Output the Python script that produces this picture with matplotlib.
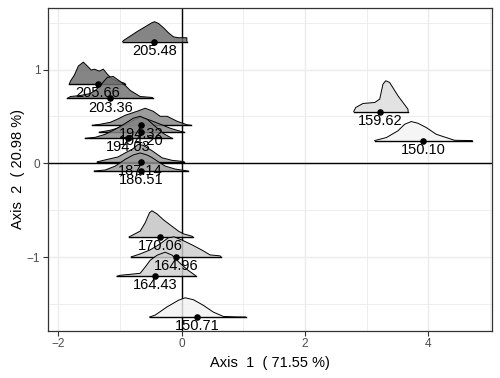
import numpy as np
import matplotlib
matplotlib.use("Agg")
import matplotlib.pyplot as plt
from matplotlib.colors import LinearSegmentedColormap, Normalize
from matplotlib.ticker import MultipleLocator

plt.rcParams['font.family'] = ['Liberation Sans', 'DejaVu Sans']

# ---- data ----
labels = ["205.48", "205.66", "203.36", "194.32", "194.20", "194.03", "187.14",
          "186.51", "170.06", "164.96", "164.43", "150.71", "159.62", "150.10"]
values = [205.48, 205.66, 203.36, 194.32, 194.20, 194.03, 187.14,
          186.51, 170.06, 164.96, 164.43, 150.71, 159.62, 150.10]
axis1 = [-0.443, -1.359, -1.160, -0.659, -0.663, -0.869, -0.667,
         -0.659, -0.346, -0.097, -0.427, 0.252, 3.214, 3.909]
axis2 = [1.297, 0.845, 0.692, 0.406, 0.332, 0.267, 0.016,
         -0.082, -0.784, -0.998, -1.205, -1.640, 0.553, 0.243]

# density ridge profiles (x positions along Axis 1, heights in Axis 2 units)
ridge_x = [
    [-0.961, -0.945, -0.729, -0.486, -0.443, -0.379, -0.298, -0.217, -0.136, -0.055, 0.081, 0.083],
    [-1.824, -1.807, -1.743, -1.678, -1.597, -1.532, -1.468, -1.419, -1.338, -1.273, -1.209, -1.144, -1.047, -0.934, -0.917],
    [-1.856, -1.807, -1.645, -1.484, -1.403, -1.322, -1.209, -1.112, -0.999, -0.917, -0.837, -0.675, -0.481, -0.464],
    [-1.451, -1.322, -1.160, -1.047, -0.917, -0.723, -0.594, -0.465, -0.351, -0.238, -0.076, 0.086, 0.150],
    [-1.338, -1.160, -0.998, -0.837, -0.675, -0.513, -0.351, -0.189, -0.028, 0.037],
    [-1.565, -1.403, -1.241, -1.079, -0.917, -0.788, -0.675, -0.562, -0.432, -0.303, -0.189, -0.157],
    [-1.371, -1.241, -1.031, -0.917, -0.804, -0.707, -0.626, -0.481, -0.319, -0.157, 0.005, 0.037],
    [-1.419, -1.241, -1.079, -0.917, -0.788, -0.675, -0.562, -0.481, -0.351, -0.270, -0.108, 0.102],
    [-0.853, -0.820, -0.675, -0.594, -0.524, -0.485, -0.405, -0.298, -0.162, -0.055, 0.026, 0.162, 0.178],
    [-0.820, -0.675, -0.513, -0.351, -0.222, -0.125, 0.005, 0.167, 0.328, 0.458, 0.620, 0.636],
    [-1.052, -0.998, -0.837, -0.675, -0.594, -0.513, -0.400, -0.270, -0.157, -0.028, 0.102, 0.215, 0.231],
    [-0.524, -0.432, -0.243, -0.055, 0.053, 0.188, 0.350, 0.511, 0.673, 0.862, 1.036],
    [2.788, 2.820, 2.939, 3.128, 3.209, 3.262, 3.306, 3.370, 3.505, 3.667, 3.670],
    [3.128, 3.317, 3.505, 3.613, 3.722, 3.828, 3.964, 4.126, 4.288, 4.422, 4.709],
]
ridge_h = [
    [0, 0.014, 0.107, 0.203, 0.214, 0.196, 0.150, 0.096, 0.053, 0.043, 0.043, 0],
    [0, 0.032, 0.096, 0.193, 0.235, 0.193, 0.150, 0.160, 0.139, 0.160, 0.107, 0.064, 0.032, 0.011, 0],
    [0, 0.021, 0.032, 0.053, 0.086, 0.139, 0.225, 0.235, 0.182, 0.139, 0.086, 0.021, 0.011, 0],
    [0, 0.011, 0.032, 0.064, 0.107, 0.150, 0.182, 0.150, 0.096, 0.096, 0.043, 0.005, 0],
    [0, 0.021, 0.053, 0.107, 0.160, 0.128, 0.086, 0.043, 0.011, 0],
    [0, 0.011, 0.043, 0.096, 0.160, 0.214, 0.235, 0.203, 0.128, 0.053, 0.011, 0],
    [0, 0.021, 0.053, 0.096, 0.134, 0.187, 0.176, 0.118, 0.043, 0.016, 0.005, 0],
    [0, 0.011, 0.053, 0.125, 0.171, 0.193, 0.171, 0.143, 0.086, 0.053, 0.021, 0],
    [0, 0.011, 0.061, 0.150, 0.257, 0.278, 0.246, 0.182, 0.114, 0.061, 0.032, 0.007, 0],
    [0, 0.032, 0.075, 0.139, 0.203, 0.214, 0.179, 0.128, 0.072, 0.021, 0.011, 0],
    [0, 0.011, 0.021, 0.032, 0.099, 0.171, 0.225, 0.257, 0.225, 0.139, 0.064, 0.011, 0],
    [0, 0.021, 0.107, 0.179, 0.206, 0.185, 0.125, 0.053, 0.007, 0.002, 0],
    [0, 0.043, 0.086, 0.096, 0.132, 0.292, 0.328, 0.310, 0.168, 0.025, 0],
    [0, 0.032, 0.104, 0.174, 0.203, 0.185, 0.139, 0.067, 0.032, 0.003, 0],
]

xlabel = "Axis  1  ( 71.55 %)"
ylabel = "Axis  2  ( 20.98 %)"
xticks = [-2, 0, 2, 4]
yticks = [-1, 0, 1]

# ---- figure ----
fig = plt.figure(figsize=(5.0, 3.78), dpi=100)
ax = fig.add_axes([0.096, 0.125, 0.888, 0.854])
ax.set_xlim(-2.17, 5.03)
ax.set_ylim(-1.786, 1.658)

ax.set_xticks(xticks)
ax.set_yticks(yticks)
ax.xaxis.set_minor_locator(MultipleLocator(1))
ax.yaxis.set_minor_locator(MultipleLocator(0.5))
ax.grid(which='major', color='#ebebeb', lw=1.0, zorder=0)
ax.grid(which='minor', color='#ebebeb', lw=0.6, zorder=0)
ax.set_axisbelow(True)
ax.tick_params(which='minor', length=0)
ax.tick_params(which='major', length=3.5, width=0.8, color='#333333',
               labelsize=8.5, labelcolor='#4d4d4d', pad=2)
for s in ax.spines.values():
    s.set_color('#333333')
    s.set_linewidth(0.9)

ax.axhline(0, color='black', lw=1.0, zorder=1)
ax.axvline(0, color='black', lw=1.0, zorder=1)

cmap = LinearSegmentedColormap.from_list('g', ['#f3f3f3', '#6a6a6a'])
norm = Normalize(vmin=min(values), vmax=max(values))

order = np.argsort(axis2)[::-1]  # top ridges first, lower ones in front
z = 2
for i in order:
    xs = np.array(ridge_x[i])
    hs = np.array(ridge_h[i])
    base = axis2[i]
    ax.fill_between(xs, base, base + hs, facecolor=cmap(norm(values[i])),
                    alpha=0.82, edgecolor='none', zorder=z)
    ax.plot(xs, base + hs, color='black', lw=0.7, zorder=z + 0.1)
    ax.plot([xs[0], xs[-1]], [base, base], color='black', lw=1.0, zorder=z + 0.1)
    z += 0.2

ax.scatter(axis1, axis2, s=14, color='black', zorder=10)
for xi, yi, lab in zip(axis1, axis2, labels):
    ax.annotate(lab, (xi, yi), xytext=(0, -1.5), textcoords='offset points',
                ha='center', va='top', fontsize=10.5, color='black', zorder=11)

ax.set_xlabel(xlabel, fontsize=10.5, labelpad=4)
ax.set_ylabel(ylabel, fontsize=10.5, labelpad=1)

fig.savefig("out.png", dpi=100)
